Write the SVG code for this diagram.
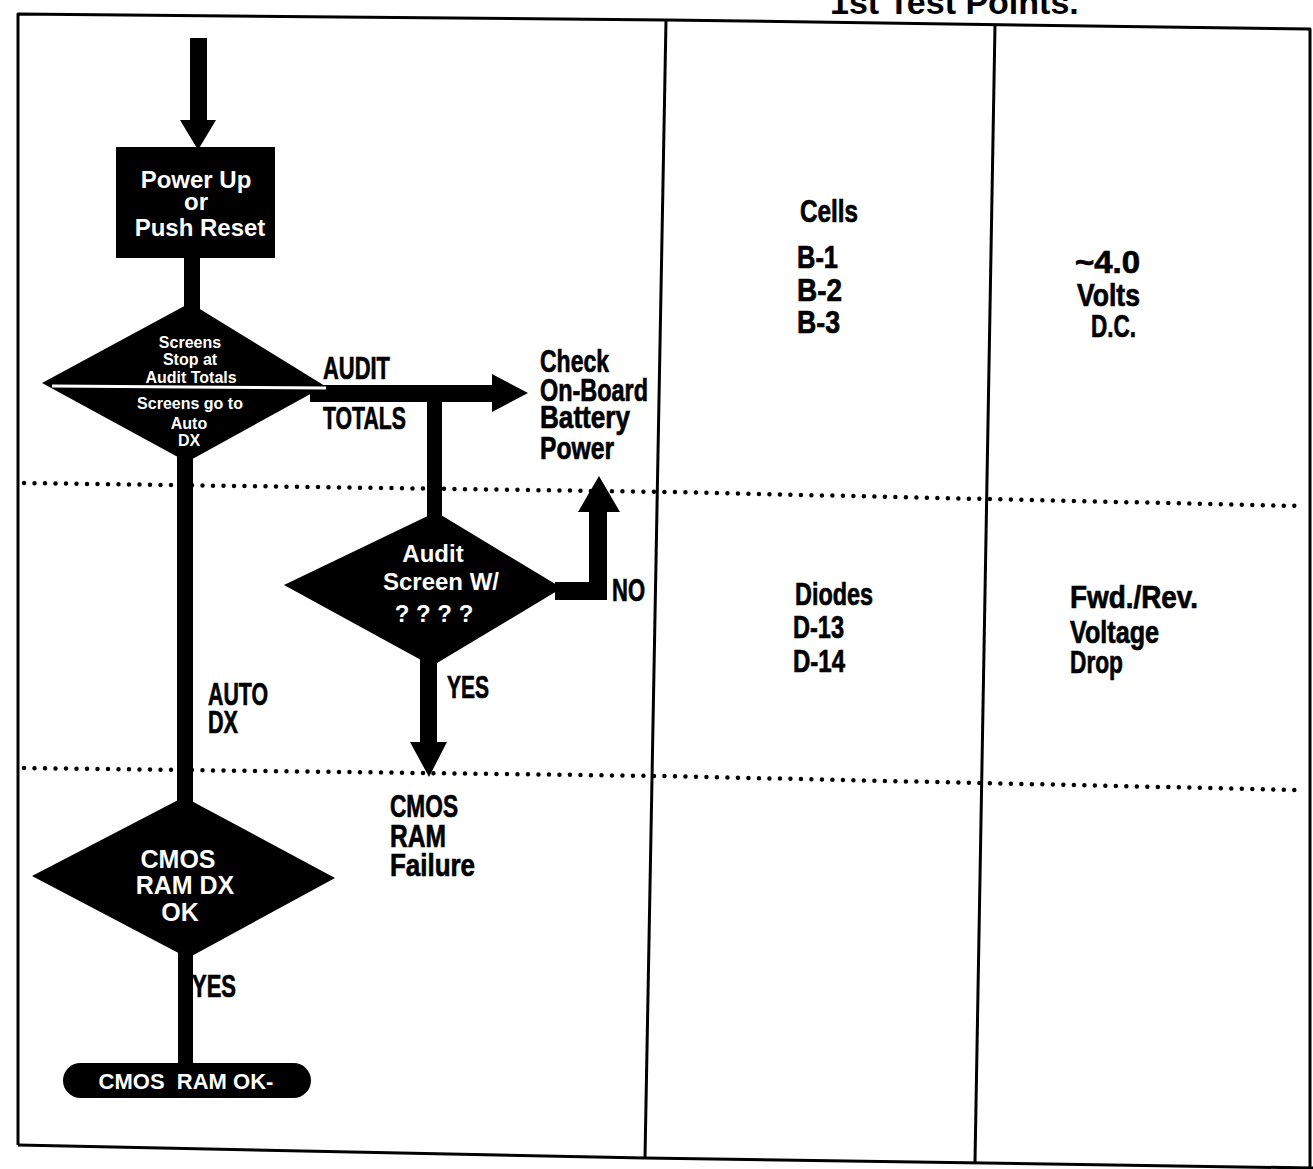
<svg xmlns="http://www.w3.org/2000/svg" width="1313" height="1169" viewBox="0 0 1313 1169">
<defs>
<style>
.frame{fill:none;stroke:#000;stroke-width:3;stroke-linejoin:round}
.dots{fill:none;stroke:#000;stroke-width:4.5;stroke-linecap:round;stroke-dasharray:0 10.5}
.shape{fill:#000}
.wt{fill:#fff;font-family:"Liberation Sans",Arial,sans-serif;font-weight:bold;text-anchor:middle}
.cd{fill:#000;stroke:#000;stroke-width:0.7;font-family:"Liberation Sans",Arial,sans-serif;font-weight:bold;font-size:32px}
.title{fill:#000;font-family:"Liberation Sans",Arial,sans-serif;font-weight:bold;font-size:34px}
</style>
</defs>
<rect width="1313" height="1169" fill="#fff"/>
<!-- frame / table -->
<g id="table">
<polyline class="frame" points="18,1145 18,14 666,20 1310,29 1310,1169"/>
<polyline class="frame" points="18,1145 645,1158 1313,1168"/>
<line class="frame" x1="666" y1="20" x2="645" y2="1158"/>
<line class="frame" x1="995" y1="25" x2="975" y2="1162"/>
<polyline class="dots" points="24,483 670,492 1300,506"/>
<polyline class="dots" points="24,768 660,776 1300,790"/>
<text class="title" x="830" y="14">1st Test Points.</text>
</g>
<!-- connectors -->
<g id="connectors">
<polygon class="shape" points="190,38 207,38 207,120 216,120 198,150 180,120 190,120"/>
<rect class="shape" x="184" y="255" width="16" height="56"/>
<rect class="shape" x="177" y="450" width="16" height="356"/>
<polygon class="shape" points="310,385 492,385 492,374 528,393 492,412 492,402 310,402"/>
<rect class="shape" x="427" y="395" width="15" height="122"/>
<polygon class="shape" points="555,582 589,582 589,512 578,512 599,476 620,512 607,512 607,600 555,600"/>
<polygon class="shape" points="420,655 437,655 437,742 447,742 429,777 410,742 420,742"/>
<rect class="shape" x="178" y="945" width="15" height="122"/>
</g>
<g id="start">
<rect class="shape" x="116" y="147" width="159" height="111"/>
<text class="wt" font-size="24" x="196" y="188">Power Up</text>
<text class="wt" font-size="24" x="196" y="210">or</text>
<text class="wt" font-size="24" x="200" y="236">Push Reset</text>
</g>
<g id="decision1">
<polygon class="shape" points="190,303 325,386 187,462 42,383"/>
<line x1="52" y1="386" x2="326" y2="388" stroke="#fff" stroke-width="3"/>
<text class="wt" font-size="16" x="190" y="348">Screens</text>
<text class="wt" font-size="16" x="190" y="365">Stop  at</text>
<text class="wt" font-size="16" x="191" y="383">Audit Totals</text>
<text class="wt" font-size="16" x="190" y="409">Screens  go to</text>
<text class="wt" font-size="16" x="189" y="429">Auto</text>
<text class="wt" font-size="16" x="189" y="446">DX</text>
</g>
<g id="decision2">
<polygon class="shape" points="436,512 562,588 432,666 284,585"/>
<text class="wt" font-size="24" x="433" y="562">Audit</text>
<text class="wt" font-size="24" x="441" y="590">Screen W/</text>
<text class="wt" font-size="24" x="434" y="622">? ? ? ?</text>
</g>
<g id="decision3">
<polygon class="shape" points="184,797 335,878 188,958 32,876"/>
<text class="wt" font-size="25" x="178" y="868">CMOS</text>
<text class="wt" font-size="25" x="185" y="894">RAM DX</text>
<text class="wt" font-size="25" x="180" y="921">OK</text>
</g>
<g id="end">
<rect class="shape" x="63" y="1063" width="248" height="35" rx="17.5"/>
<text class="wt" font-size="22" x="186" y="1089" xml:space="preserve">CMOS  RAM OK-</text>
</g>
<g id="labels">
<text class="cd" x="323" y="379" textLength="67" lengthAdjust="spacingAndGlyphs">AUDIT</text>
<text class="cd" x="323" y="429" textLength="83" lengthAdjust="spacingAndGlyphs">TOTALS</text>
<text class="cd" x="612" y="601" textLength="33" lengthAdjust="spacingAndGlyphs">NO</text>
<text class="cd" x="447" y="698" textLength="42" lengthAdjust="spacingAndGlyphs">YES</text>
<text class="cd" x="208" y="705" textLength="60" lengthAdjust="spacingAndGlyphs">AUTO</text>
<text class="cd" x="208" y="733" textLength="30" lengthAdjust="spacingAndGlyphs">DX</text>
<text class="cd" x="192" y="997" textLength="44" lengthAdjust="spacingAndGlyphs">YES</text>
</g>
<g id="check-battery">
<text class="cd" x="540" y="372" textLength="69" lengthAdjust="spacingAndGlyphs">Check</text>
<text class="cd" x="540" y="401" textLength="108" lengthAdjust="spacingAndGlyphs">On-Board</text>
<text class="cd" x="540" y="428" textLength="90" lengthAdjust="spacingAndGlyphs">Battery</text>
<text class="cd" x="540" y="459" textLength="74" lengthAdjust="spacingAndGlyphs">Power</text>
</g>
<g id="cmos-failure">
<text class="cd" x="390" y="817" textLength="68" lengthAdjust="spacingAndGlyphs">CMOS</text>
<text class="cd" x="390" y="847" textLength="56" lengthAdjust="spacingAndGlyphs">RAM</text>
<text class="cd" x="390" y="876" textLength="85" lengthAdjust="spacingAndGlyphs">Failure</text>
</g>
<g id="test-points">
<text class="cd" x="800" y="222" textLength="58" lengthAdjust="spacingAndGlyphs">Cells</text>
<text class="cd" x="797" y="268" textLength="41" lengthAdjust="spacingAndGlyphs">B-1</text>
<text class="cd" x="797" y="301" textLength="45" lengthAdjust="spacingAndGlyphs">B-2</text>
<text class="cd" x="797" y="333" textLength="43" lengthAdjust="spacingAndGlyphs">B-3</text>
<text class="cd" x="1075" y="273" textLength="65" lengthAdjust="spacingAndGlyphs">~4.0</text>
<text class="cd" x="1077" y="306" textLength="63" lengthAdjust="spacingAndGlyphs">Volts</text>
<text class="cd" x="1091" y="337" textLength="45" lengthAdjust="spacingAndGlyphs">D.C.</text>
<text class="cd" x="795" y="605" textLength="78" lengthAdjust="spacingAndGlyphs">Diodes</text>
<text class="cd" x="793" y="638" textLength="51" lengthAdjust="spacingAndGlyphs">D-13</text>
<text class="cd" x="793" y="672" textLength="52" lengthAdjust="spacingAndGlyphs">D-14</text>
<text class="cd" x="1070" y="608" textLength="128" lengthAdjust="spacingAndGlyphs">Fwd./Rev.</text>
<text class="cd" x="1070" y="643" textLength="89" lengthAdjust="spacingAndGlyphs">Voltage</text>
<text class="cd" x="1070" y="673" textLength="53" lengthAdjust="spacingAndGlyphs">Drop</text>
</g>
</svg>
